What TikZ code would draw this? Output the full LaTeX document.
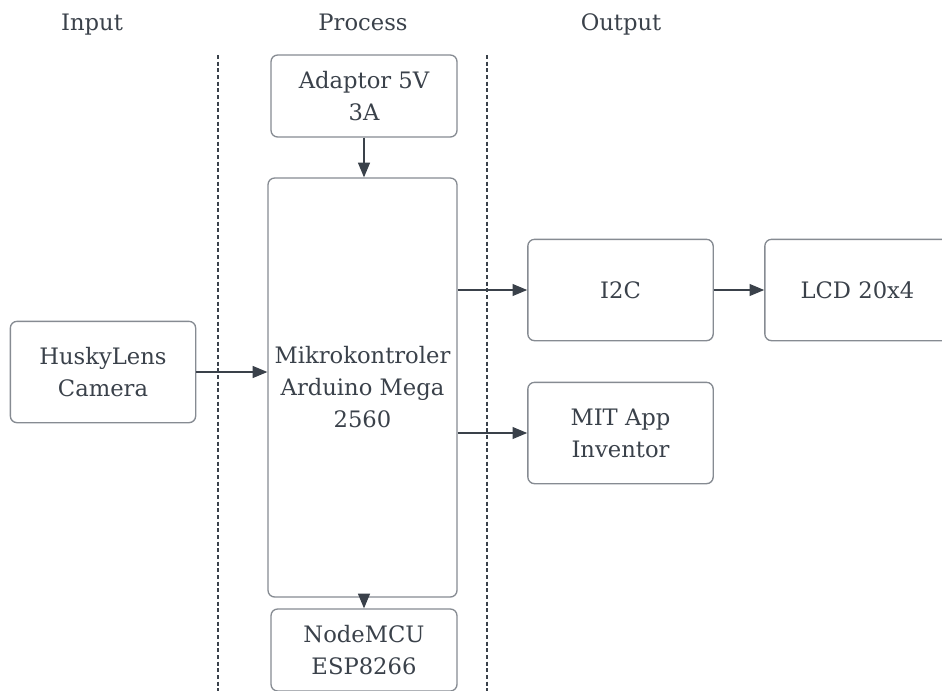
\documentclass[tikz,border=0pt]{standalone}
\usepackage{fontspec}
\setmainfont{DejaVu Serif}
\usepackage{tikz}
\usepackage{xcolor}
\usetikzlibrary{calc}
\usetikzlibrary{positioning}
\usetikzlibrary{arrows.meta}
\definecolor{textColor}{HTML}{3A414A}
\definecolor{boxColor}{HTML}{868B92}
\definecolor{arrowColor}{HTML}{3A414A}

\begin{document}
\begin{tikzpicture}[
		x=0.75pt, y=-0.75pt,
		arrow/.style={-{Triangle[length=11pt, width=9pt]}, draw=arrowColor, line width=0.8pt},
		block/.style={draw=boxColor, line width=1pt, rounded corners=5pt, align=center, text=textColor, font=\fontsize{17}{24}\selectfont, inner sep=0pt},
		small block/.style={block, minimum width=139.5pt, minimum height=61.5pt},
		side block/.style={block, minimum width=139pt, minimum height=76pt},
		header/.style={text=textColor, font=\fontsize{17}{24}\selectfont, anchor=base},
		divider/.style={draw=arrowColor, dash pattern=on 3pt off 2pt, line width=0.9pt},
	]
	\useasboundingbox (0, 0) rectangle (942, 690);
	\clip (0, 0) rectangle (942, 690);
	% Column headers
	\node[header] (input title) at (92, 30) {Input};
	\node[header] (process title) at (363, 30) {Process};
	\node[header] (output title) at (621, 30) {Output};
	% Column dividers
	\draw[divider] (218, 55) -- (218, 692);
	\draw[divider] (487, 55) -- (487, 692);
	% Process blocks
	\node[small block] (adaptor) at (364, 96) {Adaptor 5V\\3A};
	\node[block, minimum width=141.75pt, minimum height=314.25pt] (mega) at (362.5, 387.5) {Mikrokontroler\\Arduino Mega\\2560};
	\node[small block] (nodemcu) at (364, 650) {NodeMCU\\ESP8266};
	% Input and output blocks
	\node[side block] (husky) at (103, 372) {HuskyLens\\Camera};
	\node[side block] (i2c) at (620.5, 290) {I2C};
	\node[side block] (lcd) at (857.5, 290) {LCD 20x4};
	\node[side block] (mit) at (620.5, 433) {MIT App\\Inventor};
	% Arrows
	\draw[arrow] (adaptor.south) -- (adaptor.south |- mega.north);
	\draw[arrow] (adaptor.south |- mega.south) -- (nodemcu.north);
	\draw[arrow] (husky.east) -- (husky.east -| mega.west);
	\draw[arrow] (i2c.west -| mega.east) -- (i2c.west);
	\draw[arrow] (mit.west -| mega.east) -- (mit.west);
	\draw[arrow] (i2c.east) -- (lcd.west);
\end{tikzpicture}
\end{document}
